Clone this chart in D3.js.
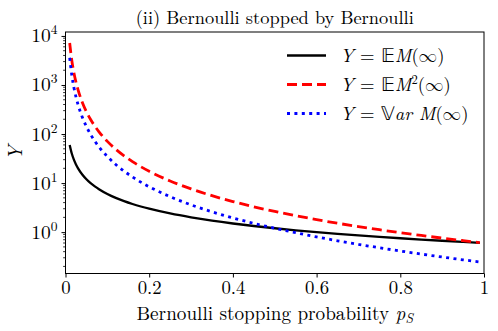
<!DOCTYPE html>
<html><head><meta charset="utf-8">
<script src="https://cdn.jsdelivr.net/npm/d3@7"></script>
<style>body{margin:0;background:#fff}svg{display:block}svg text{font-family:"Latin Modern Roman","Liberation Serif",serif;fill:#000}</style>
</head><body><svg id="c" width="498" height="331"></svg>
<script>
const p = [0.01,0.015,0.02,0.025,0.03,0.04,0.05,0.06,0.07,0.08,0.1,0.12,0.14,0.16,0.18,0.2,0.25,0.3,0.35,0.4,0.45,0.5,0.55,0.6,0.65,0.7,0.75,0.8,0.85,0.9,0.95,0.99];
const meanM = [60,40,30,24,20,15,12,10,8.571,7.5,6,5,4.286,3.75,3.333,3,2.4,2,1.714,1.5,1.333,1.2,1.091,1,0.923,0.857,0.8,0.75,0.706,0.667,0.632,0.606];
const meanM2 = [7188,3192,1794,1147,796,447,285.6,198,145.2,111,70.8,49,35.88,27.37,21.55,17.4,11.04,7.6,5.535,4.2,3.289,2.64,2.162,1.8,1.519,1.298,1.12,0.975,0.855,0.755,0.672,0.613];
const varM = [3588,1592,894,571.2,396,222,141.6,98,71.76,54.75,34.8,24,17.51,13.31,10.44,8.4,5.28,3.6,2.596,1.95,1.511,1.2,0.972,0.8,0.667,0.563,0.48,0.4125,0.357,0.311,0.2726,0.2461];
const xTicks = [0,0.2,0.4,0.6,0.8,1];
const xTickLabels = ["0","0.2","0.4","0.6","0.8","1"];
const yMajor = [1,10,100,1000,10000];
const yExp = ["0","1","2","3","4"];
const yDomain = [0.1434, 12034];
const legendLabels = [
  [["Y","i"],[" = ",""],["𝔼",""],["M","i"],["(","" ],["∞","inf"],[")",""]],
  [["Y","i"],[" = ",""],["𝔼",""],["M","i"],["2","sup"],["(","down"],["∞","inf"],[")",""]],
  [["Y","i"],[" = ",""],["𝕍",""],["ar M","i"],["(",""],["∞","inf"],[")",""]]
];
const colors = ["#000000","#ff0000","#0000ff"];
const dashes = [null,"10,5","3,4.4"];

const svg = d3.select("#c");
const m = {l:65.5, r:14, t:32, b:57.5};
const W = 498, H = 331;
const x = d3.scaleLinear().domain([0,1]).range([m.l, W-m.r]);
const y = d3.scaleLog().domain(yDomain).range([H-m.b, m.t]);

const data = [meanM, meanM2, varM];
svg.append("clipPath").attr("id","cp").append("rect")
  .attr("x",m.l).attr("y",m.t).attr("width",W-m.r-m.l).attr("height",H-m.b-m.t);
const line = d3.line().x((d,i)=>x(p[i])).y(d=>y(d)).curve(d3.curveMonotoneX);
const g = svg.append("g").attr("clip-path","url(#cp)");
data.forEach((s,k)=>{
  g.append("path").attr("d",line(s)).attr("fill","none").attr("stroke",colors[k])
   .attr("stroke-width",k===0?2.3:2.8).attr("stroke-dasharray",dashes[k]);
});

// x axis
const xa = svg.append("g").attr("transform",`translate(0,${H-m.b})`)
  .call(d3.axisBottom(x).tickValues(xTicks).tickSize(4).tickPadding(3).tickFormat((d,i)=>xTickLabels[i]));
xa.select(".domain").remove();
xa.selectAll("text").attr("font-size",18.8).style("font-family",'"Latin Modern Roman",serif');
xa.selectAll("line").attr("stroke","#000");

// y axis (log)
const ya = svg.append("g").attr("transform",`translate(${m.l},0)`)
  .call(d3.axisLeft(y).tickValues(yMajor).tickSize(4).tickFormat(""));
ya.select(".domain").remove();
ya.selectAll("line").attr("stroke","#000");
const minor = [];
for (let e=-1;e<=4;e++) for (let k=2;k<=9;k++){const v=k*Math.pow(10,e); if(v>=yDomain[0]&&v<=yDomain[1]) minor.push(v);}
ya.selectAll(".minor").data(minor).enter().append("line").attr("class","minor")
  .attr("x1",0).attr("x2",-2.4).attr("y1",d=>y(d)).attr("y2",d=>y(d)).attr("stroke","#000").attr("stroke-width",0.8);
yMajor.forEach((v,i)=>{
  const t = svg.append("text").attr("x",m.l-8).attr("y",y(v)+6.5).attr("text-anchor","end").attr("font-size",19.5);
  t.append("tspan").text("10");
  t.append("tspan").attr("dy",-8).attr("font-size",13.5).text(yExp[i]);
});

// frame
svg.append("rect").attr("x",m.l).attr("y",m.t).attr("width",W-m.r-m.l).attr("height",H-m.b-m.t)
  .attr("fill","none").attr("stroke","#000").attr("stroke-width",1);

// title
svg.append("text").attr("x",(m.l+W-m.r)/2).attr("y",24).attr("text-anchor","middle").attr("font-size",18.4)
  .text("(ii) Bernoulli stopped by Bernoulli");
// x label
const xl = svg.append("text").attr("x",(m.l+W-m.r)/2).attr("y",320).attr("text-anchor","middle").attr("font-size",19.2);
xl.append("tspan").text("Bernoulli stopping probability ");
xl.append("tspan").attr("font-style","italic").text("p");
xl.append("tspan").attr("font-style","italic").attr("font-size",13.5).attr("dy",3).text("S");
// y label
svg.append("text").attr("transform",`translate(22,${(m.t+H-m.b)/2}) rotate(-90)`).attr("text-anchor","middle")
  .attr("font-size",20).attr("font-style","italic").text("Y");

// legend
const legY = [55.5, 84.5, 113.5];
legendLabels.forEach((parts,k)=>{
  svg.append("line").attr("x1",287).attr("x2",326).attr("y1",legY[k]).attr("y2",legY[k])
    .attr("stroke",colors[k]).attr("stroke-width",k===0?2.3:2.8).attr("stroke-dasharray",dashes[k]);
  const t = svg.append("text").attr("x",340).attr("y",legY[k]+6.5).attr("font-size",18.6);
  parts.forEach(([s,st])=>{
    const ts = t.append("tspan").text(s);
    if (st==="i") ts.attr("font-style","italic");
    if (st==="sup") ts.attr("font-size",12.5).attr("dy",-7.5);
    if (st==="down") ts.attr("dy",7.5);
    if (st==="inf") ts.style("font-family",'"Latin Modern Math","DejaVu Serif",serif').attr("font-weight","normal");
  });
});
</script></body></html>
